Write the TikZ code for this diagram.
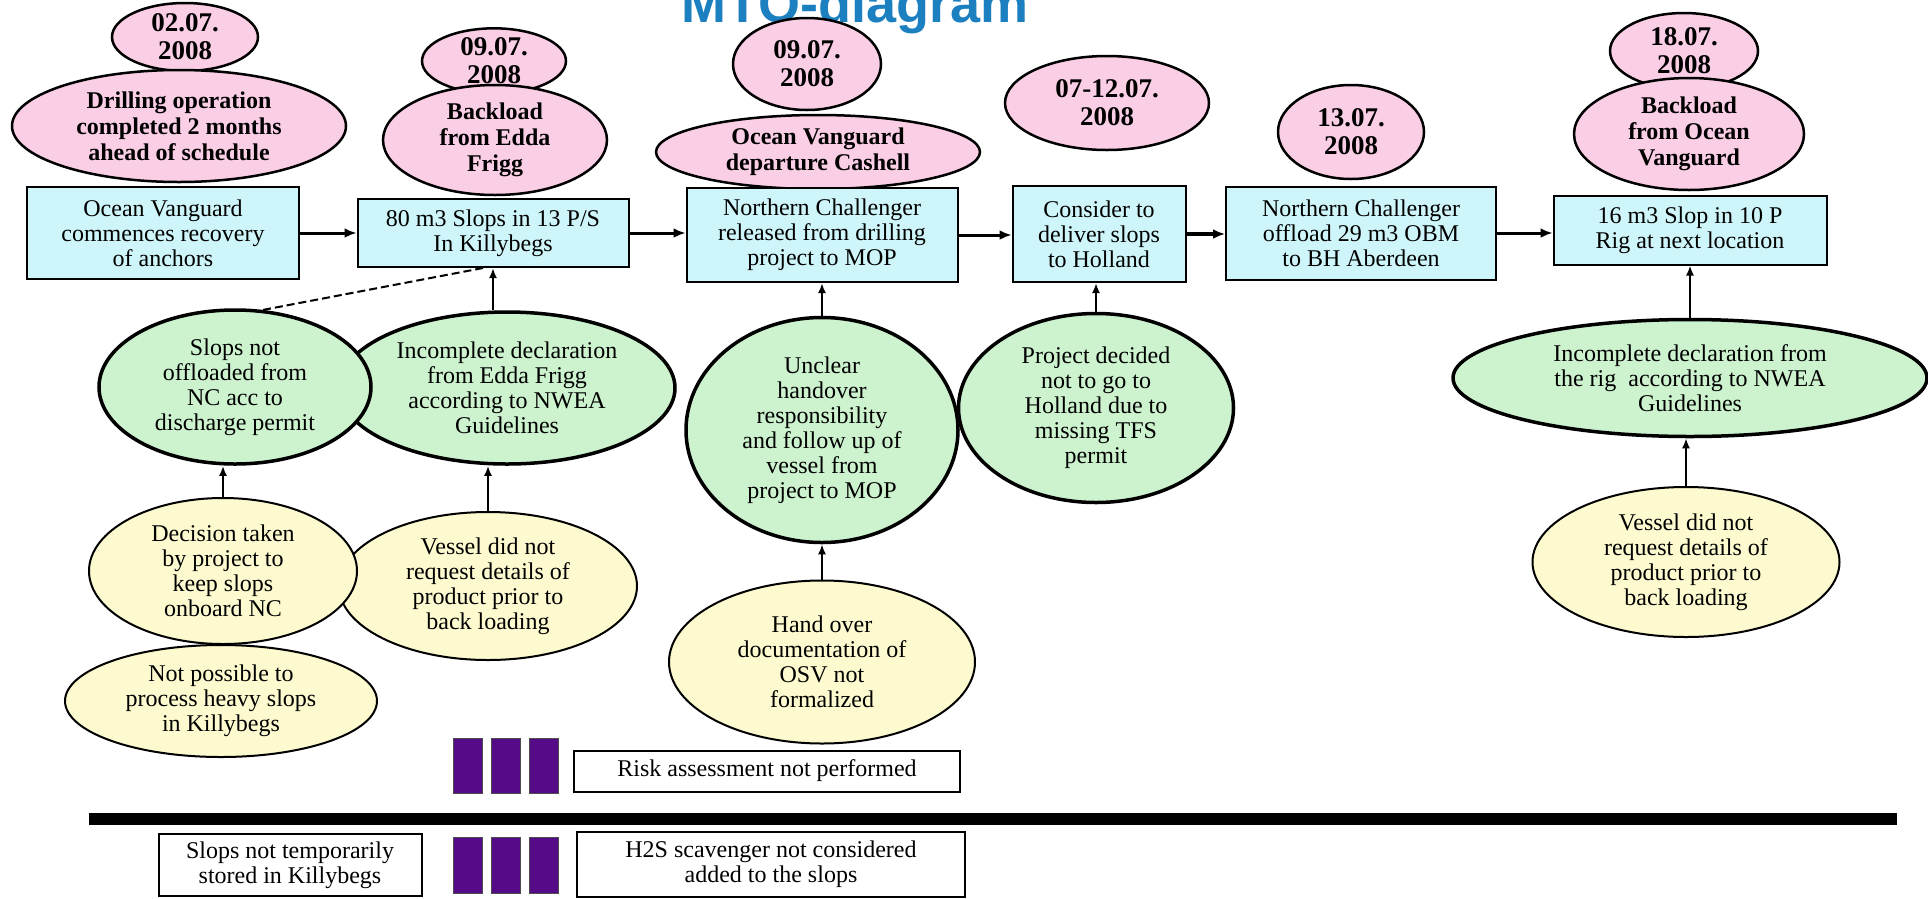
\documentclass[tikz,border=0pt]{standalone}
\usepackage{fontspec}
\setmainfont{Liberation Serif}
\newfontfamily\titlefont{Liberation Sans}
\usetikzlibrary{shapes.geometric,arrows.meta}

\definecolor{datepink}{RGB}{250,206,229}
\definecolor{boxcyan}{RGB}{206,246,250}
\definecolor{causegreen}{RGB}{204,242,206}
\definecolor{rootyellow}{RGB}{252,250,206}
\definecolor{barpurple}{RGB}{85,10,135}
\definecolor{titleblue}{RGB}{28,128,192}

\begin{document}
\begin{tikzpicture}[x=1pt, y=-1pt,
  dateell/.style={ellipse, draw, line width=2.5pt, fill=datepink, inner sep=0pt, align=center,
    font=\fontsize{27}{28}\selectfont\bfseries},
  eventell/.style={dateell, font=\fontsize{24}{26}\selectfont\bfseries},
  eventbox/.style={rectangle, draw, line width=2pt, fill=boxcyan, inner sep=0pt, align=center,
    font=\fontsize{24}{25}\selectfont},
  causeell/.style={ellipse, draw, line width=3.5pt, fill=causegreen, inner sep=0pt, align=center,
    font=\fontsize{24}{25}\selectfont},
  rootell/.style={causeell, line width=2pt, fill=rootyellow},
  notebox/.style={rectangle, draw, line width=2pt, fill=white, inner sep=0pt, align=center,
    font=\fontsize{24}{25}\selectfont},
  flow/.style={line width=3pt, -{Latex[length=12pt,width=10pt]}},
  link/.style={line width=2pt, -{Latex[length=10pt,width=8pt]}},
  bar/.style={fill=barpurple, draw=black!70, line width=1pt}]

\useasboundingbox (0,0) rectangle (1928,898);
\clip (0,0) rectangle (1928,898);

% title
\node[font=\titlefont\fontsize{54}{54}\selectfont\bfseries, text=titleblue, anchor=base] (title) at (855,22) {MTO-diagram};

% dates
\node[dateell, minimum width=146pt, minimum height=68pt] (d1) at (185,37) {02.07.\\2008};
\node[dateell, minimum width=144pt, minimum height=58pt] (d2) at (494,61) {09.07.\\2008};
\node[dateell, minimum width=148pt, minimum height=92pt] (d3) at (807,64) {09.07.\\2008};
\node[dateell, minimum width=204pt, minimum height=94pt] (d4) at (1107,103) {07-12.07.\\2008};
\node[dateell, minimum width=146pt, minimum height=94pt] (d5) at (1351,132) {13.07.\\2008};
\node[dateell, minimum width=148pt, minimum height=76pt] (d6) at (1684,51) {18.07.\\2008};

% events
\node[eventell, minimum width=334pt, minimum height=112pt] (e1) at (179,126) {Drilling operation\\completed 2 months\\ahead of schedule};
\node[eventell, minimum width=224pt, minimum height=110pt] (e2) at (495,140) {Backload\\from Edda\\Frigg};
\node[eventell, minimum width=324pt, minimum height=74pt] (e3) at (818,152) {Ocean Vanguard\\departure Cashell};
\node[eventell, minimum width=230pt, minimum height=112pt] (e6) at (1689,134) {Backload\\from Ocean\\Vanguard};

% main row
\node[eventbox, minimum width=272pt, minimum height=92pt] (b1) at (163,233) {Ocean Vanguard\\commences recovery\\of anchors};
\node[eventbox, minimum width=271pt, minimum height=68pt] (b2) at (493,233) {80 m3 Slops in 13 P/S\\In Killybegs};
\node[eventbox, minimum width=271pt, minimum height=94pt] (b3) at (822,235) {Northern Challenger\\released from drilling\\project to MOP};
\node[eventbox, minimum width=173pt, minimum height=96pt] (b4) at (1099,234) {Consider to\\deliver slops\\to Holland};
\node[eventbox, minimum width=270pt, minimum height=93pt] (b5) at (1361,233) {Northern Challenger\\offload 29 m3 OBM\\to BH Aberdeen};
\node[eventbox, minimum width=273pt, minimum height=69pt] (b6) at (1690,230) {16 m3 Slop in 10 P\\Rig at next location};

\draw[flow] (b1.east) -- (b1.east -| b2.west);
\draw[flow] (b2.east) -- (b2.east -| b3.west);
\draw[flow] (b3.east) -- (b3.east -| b4.west);
\draw[flow, line width=4pt] (b4.east) -- (b4.east -| b5.west);
\draw[flow] (b5.east) -- (b5.east -| b6.west);

% conditions
\node[causeell, minimum width=336pt, minimum height=152pt] (g2) at (507,388) {Incomplete declaration\\from Edda Frigg\\according to NWEA\\Guidelines};
\node[causeell, minimum width=272pt, minimum height=154pt] (g1) at (235,387) {Slops not\\offloaded from\\NC acc to\\discharge permit};
\node[causeell, minimum width=272pt, minimum height=225pt] (g3) at (822,430) {Unclear\\handover\\responsibility\\and follow up of\\vessel from\\project to MOP};
\node[causeell, minimum width=275pt, minimum height=189pt] (g4) at (1096,408) {Project decided\\not to go to\\Holland due to\\missing TFS\\permit};
\node[causeell, minimum width=474pt, minimum height=117pt] (g5) at (1690,378) {Incomplete declaration from\\the rig\ \ according to NWEA\\Guidelines};

% causes
\node[rootell, minimum width=298pt, minimum height=148pt] (y2) at (488,586) {Vessel did not\\request details of\\product prior to\\back loading};
\node[rootell, minimum width=268pt, minimum height=146pt] (y1) at (223,571) {Decision taken\\by project to\\keep slops\\onboard NC};
\node[rootell, minimum width=312pt, minimum height=112pt] (y3) at (221,701) {Not possible to\\process heavy slops\\in Killybegs};
\node[rootell, minimum width=306pt, minimum height=163pt] (y4) at (822,662) {Hand over\\documentation of\\OSV not\\formalized};
\node[rootell, minimum width=307pt, minimum height=150pt] (y5) at (1686,562) {Vessel did not\\request details of\\product prior to\\back loading};

\draw[link] (b2.south |- g2.north) -- (b2.south);
\draw[link, dash pattern=on 8pt off 4pt, -] (g1.70) -- ([xshift=-10pt]b2.south);
\draw[link] (y1.north) -- (y1.north |- g1.south);
\draw[link] (y2.north) -- (y2.north |- g2.south);
\draw[link] (g3.north) -- (b3.south);
\draw[link] (y4.north) -- (g3.south);
\draw[link] (g4.north) -- (g4.north |- b4.south);
\draw[link] (g5.north) -- (b6.south);
\draw[link] (y5.north) -- (y5.north |- g5.south);

% barriers
\foreach \bx in {453,491,529} {
  \draw[bar] (\bx,738) rectangle ++(29,55);
  \draw[bar] (\bx,837) rectangle ++(29,56);
}
\node[notebox, minimum width=386pt, minimum height=41pt] (risk) at (767,771) {Risk assessment not performed};
\draw[line width=12pt] (89,819) -- (1897,819);
\node[notebox, minimum width=263pt, minimum height=62pt] (store) at (290,865) {Slops not temporarily\\stored in Killybegs};
\node[notebox, minimum width=388pt, minimum height=65pt] (hts) at (771,864) {H2S scavenger not considered\\added to the slops};

\end{tikzpicture}
\end{document}
